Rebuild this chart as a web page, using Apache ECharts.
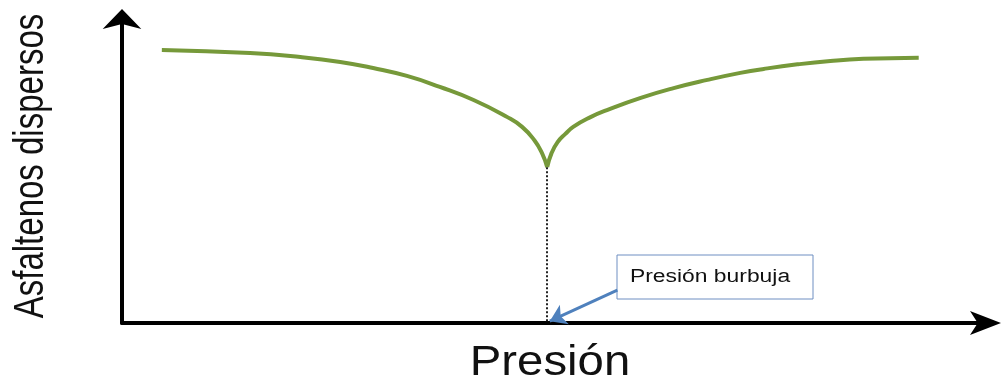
<!DOCTYPE html>
<html lang="es">
<head>
  <meta charset="UTF-8">
  <script src="https://cdn.jsdelivr.net/npm/echarts@6/dist/echarts.min.js"></script>
  <title>Asfaltenos dispersos vs presión</title>
  <style>
    html, body { margin: 0; padding: 0; background: #ffffff; }
    #chart { width: 1005px; height: 383px; }
  </style>
</head>
<body>
<div id="chart"></div>
<script>
  // valores relativos (0-100)
  const presion = [4.6, 14.8, 20.6, 25.2, 29.0, 32.9, 36.7, 40.6, 44.5, 46.2, 47.6, 48.5, 49.1,
                   49.6, 50.3, 51.2, 52.1, 54.1, 56.0, 59.9, 63.7, 67.6, 71.4, 74.1, 78.0, 81.8, 85.6, 92.0];
  const asfaltenos = [89.5, 88.5, 87.2, 85.6, 83.6, 81.0, 77.4, 73.1, 67.5, 64.3, 60.0, 55.7, 51.1,
                      55.7, 59.3, 62.0, 64.3, 67.5, 69.8, 73.8, 77.0, 79.7, 82.0, 83.3, 84.8, 85.9, 86.6, 87.0];

  // punto de burbuja y anotación
  const burbuja = [49.1, 51.1];
  const flechaDesde = [57.2, 10.8];
  const flechaHasta = [49.4, 0.6];
  const etiquetaBurbuja = 'Presión burbuja';
  const tituloX = 'Presión';
  const tituloY = 'Asfaltenos dispersos';

  const puntos = presion.map((p, i) => [p, asfaltenos[i]]);
  const iBurbuja = presion.indexOf(burbuja[0]);

  const chart = echarts.init(document.getElementById('chart'));

  const curva = (data) => ({
    type: 'line',
    data: data,
    symbol: 'none',
    smooth: 0.5,
    lineStyle: { color: '#76993a', width: 4 }
  });

  const option = {
    animation: false,
    grid: { left: 122, right: 17, top: 18, bottom: 60 },
    xAxis: {
      type: 'value',
      min: 0,
      max: 100,
      axisLine: {
        show: true,
        symbol: ['none', 'arrow'],
        symbolSize: [18, 31],
        symbolOffset: [0, 13],
        lineStyle: { color: '#000', width: 4 }
      },
      axisTick: { show: false },
      axisLabel: { show: false },
      splitLine: { show: false }
    },
    yAxis: {
      type: 'value',
      min: 0,
      max: 100,
      axisLine: {
        show: true,
        symbol: ['none', 'arrow'],
        symbolSize: [29, 20],
        symbolOffset: [0, 9],
        lineStyle: { color: '#000', width: 4 }
      },
      axisTick: { show: false },
      axisLabel: { show: false },
      splitLine: { show: false }
    },
    series: [
      curva(puntos.slice(0, iBurbuja + 1)),
      Object.assign(curva(puntos.slice(iBurbuja)), {
        markLine: {
          silent: true,
          symbol: ['none', 'none'],
          label: { show: false },
          data: [
            [
              { coord: burbuja, lineStyle: { color: '#222', width: 2, type: [2, 2] } },
              { coord: [burbuja[0], 0] }
            ],
            [
              { coord: flechaDesde, lineStyle: { color: '#4f81bd', width: 3, type: 'solid' } },
              { coord: flechaHasta, symbol: 'arrow', symbolSize: 16 }
            ]
          ]
        }
      })
    ],
    graphic: [
      {
        type: 'text',
        x: 31,
        y: 166,
        rotation: Math.PI / 2,
        scaleY: 1.3,
        style: {
          text: tituloY,
          font: '33px "Liberation Sans", Arial, sans-serif',
          fill: '#111',
          textAlign: 'center', textVerticalAlign: 'middle',
          align: 'center', verticalAlign: 'middle'
        }
      },
      {
        type: 'text',
        x: 550,
        y: 363,
        scaleX: 1.1,
        style: {
          text: tituloX,
          font: '43px "Liberation Sans", Arial, sans-serif',
          fill: '#111',
          textAlign: 'center', textVerticalAlign: 'middle',
          align: 'center', verticalAlign: 'middle'
        }
      },
      {
        type: 'rect',
        shape: { x: 617, y: 255, width: 196, height: 44 },
        style: { fill: '#fff', stroke: '#6f8fc2', lineWidth: 1 }
      },
      {
        type: 'text',
        x: 630,
        y: 277,
        scaleX: 1.27,
        style: {
          text: etiquetaBurbuja,
          font: '18px "Liberation Sans", Arial, sans-serif',
          fill: '#111',
          textAlign: 'left', textVerticalAlign: 'middle',
          align: 'left', verticalAlign: 'middle'
        }
      }
    ]
  };

  chart.setOption(option);
</script>
</body>
</html>
